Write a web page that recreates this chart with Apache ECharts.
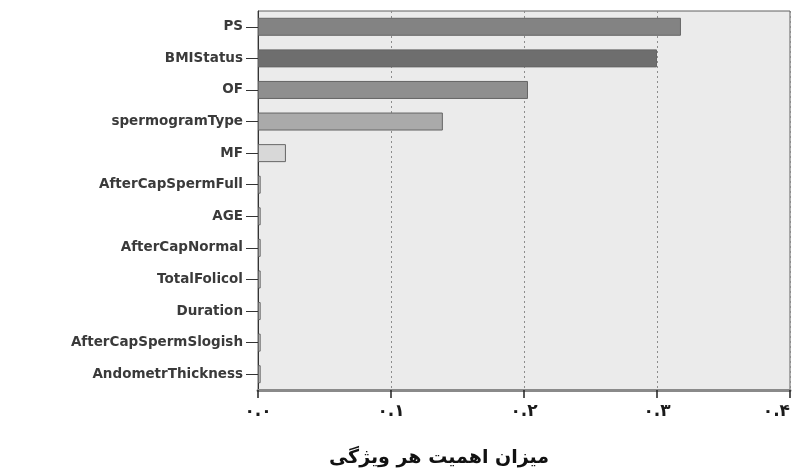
<!DOCTYPE html>
<html>
<head>
<meta charset="utf-8">
<script src="https://cdn.jsdelivr.net/npm/echarts@6/dist/echarts.min.js"></script>
<style>
  html, body { margin: 0; padding: 0; background: #ffffff; overflow: hidden; }
  #chart { width: 794px; height: 473px; }
</style>
</head>
<body>
<div id="chart"></div>
<script>
const categories = ['PS', 'BMIStatus', 'OF', 'spermogramType', 'MF', 'AfterCapSpermFull', 'AGE', 'AfterCapNormal', 'TotalFolicol', 'Duration', 'AfterCapSpermSlogish', 'AndometrThickness'];
const importance = [0.318, 0.300, 0.203, 0.139, 0.021, 0.002, 0.002, 0.002, 0.002, 0.002, 0.002, 0.002];
const xTickLabels = ['۰.۰', '۰.۱', '۰.۲', '۰.۳', '۰.۴'];
const axisTitle = 'میزان اهمیت هر ویژگی';

const barColors = ['#838383', '#6e6e6e', '#8f8f8f', '#aaaaaa', '#d8d8d8', '#d0d0d0', '#d0d0d0', '#d0d0d0', '#d0d0d0', '#d0d0d0', '#d0d0d0', '#d0d0d0'];

const chart = echarts.init(document.getElementById('chart'), null, { renderer: 'canvas' });
chart.setOption({
  animation: false,
  backgroundColor: '#ffffff',
  grid: {
    left: 258, right: 4, top: 11, bottom: 83,
    outerBoundsMode: 'none', containLabel: false,
    show: true, backgroundColor: '#ebebeb', borderColor: '#606060', borderWidth: 1
  },
  xAxis: {
    type: 'value', min: 0, max: 0.4, interval: 0.1,
    axisLine: { show: true, lineStyle: { color: '#8a8a8a', width: 3 } },
    axisTick: { show: true, length: 8, lineStyle: { color: '#222', width: 1.5 } },
    axisLabel: {
      margin: 13, fontSize: 17, fontWeight: 'bold', color: '#1a1a1a', fontFamily: 'DejaVu Sans',
      alignMaxLabel: 'right',
      formatter: v => xTickLabels[Math.round(v * 10)]
    },
    splitLine: { show: true, lineStyle: { color: '#8c8c8c', type: [2, 3], width: 1 } }
  },
  yAxis: {
    type: 'category', data: categories, inverse: true,
    axisLine: { show: true, lineStyle: { color: '#333', width: 1 } },
    axisTick: { show: true, alignWithLabel: true, length: 12, lineStyle: { color: '#333' } },
    axisLabel: { margin: 15, fontSize: 13.5, fontWeight: 'bold', color: '#3a3a3a', fontFamily: 'DejaVu Sans' },
    splitLine: { show: false }
  },
  graphic: [{
    type: 'text', x: 439, y: 458,
    style: { text: axisTitle, font: 'bold 19px "DejaVu Sans"', fill: '#111', textAlign: 'center', textVerticalAlign: 'middle' }
  }],
  series: [{
    type: 'bar',
    barWidth: 18,
    data: importance.map((v, i) => ({
      value: v,
      itemStyle: { color: barColors[i], borderColor: '#666666', borderWidth: 1 }
    }))
  }]
});
</script>
</body>
</html>
